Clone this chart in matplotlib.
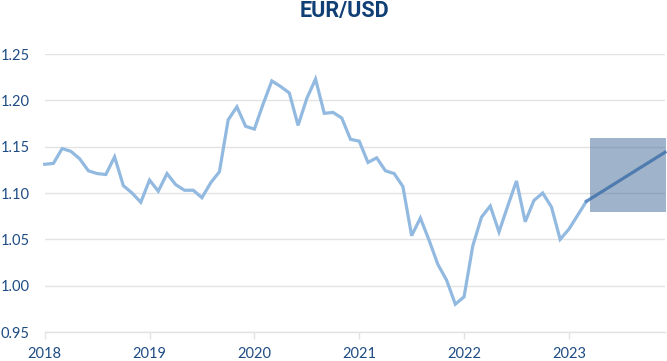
import matplotlib
matplotlib.use("Agg")
import matplotlib.pyplot as plt
from matplotlib.patches import Rectangle

start_year = 2018
eurusd = [1.131, 1.132, 1.148, 1.145, 1.137, 1.124, 1.121, 1.120, 1.139, 1.108,
          1.100, 1.090, 1.114, 1.102, 1.121, 1.109, 1.103, 1.103, 1.095, 1.111,
          1.123, 1.179, 1.193, 1.172, 1.169, 1.196, 1.221, 1.215, 1.208, 1.173,
          1.202, 1.223, 1.186, 1.187, 1.181, 1.158, 1.156, 1.133, 1.138, 1.124,
          1.121, 1.107, 1.054, 1.073, 1.049, 1.023, 1.006, 0.980, 0.988, 1.043,
          1.074, 1.086, 1.058, 1.086, 1.113, 1.069, 1.092, 1.100, 1.085, 1.050,
          1.061, 1.076, 1.091]
forecast_months = [62, 71]
forecast_vals = [1.091, 1.144]
band_months = [62.4, 71.15]
band_vals = [1.079, 1.159]
year_ticks = [2018, 2019, 2020, 2021, 2022, 2023]
y_ticks = [0.95, 1.00, 1.05, 1.10, 1.15, 1.20, 1.25]

navy = "#1d4c84"
line_c = "#92b9e0"
grid_c = "#e3e3e3"

fig = plt.figure(figsize=(6.67, 3.61), dpi=100)
ax = fig.add_axes([0.067, 0.0803, 0.930, 0.770])

x = [start_year + i / 12 for i in range(len(eurusd))]
ax.plot(x, eurusd, color=line_c, lw=2.3, solid_joinstyle="miter", zorder=3, clip_on=False)
fx = [start_year + m / 12 for m in forecast_months]
ax.plot(fx, forecast_vals, color="#5e8fc6", lw=2.3, zorder=3, clip_on=False)
bx0 = start_year + band_months[0] / 12
bx1 = start_year + band_months[1] / 12
ax.add_patch(Rectangle((bx0, band_vals[0]), bx1 - bx0, band_vals[1] - band_vals[0],
                       facecolor="#416999", alpha=0.5, edgecolor="none", zorder=4, clip_on=False))

ax.set_xlim(start_year, start_year + 71 / 12)
ax.set_ylim(0.95, 1.25)
ax.set_yticks(y_ticks)
ax.set_yticklabels([f"{v:.2f}" for v in y_ticks])
ax.set_xticks(year_ticks)
ax.set_xticklabels([str(y) for y in year_ticks])
ax.grid(axis="y", color=grid_c, lw=1)
ax.set_axisbelow(True)
for s in ["top", "right", "left"]:
    ax.spines[s].set_visible(False)
ax.spines["bottom"].set_color(grid_c)
ax.spines["bottom"].set_linewidth(1)
ax.tick_params(axis="y", length=0, pad=11, labelsize=10.5, labelcolor=navy)
ax.tick_params(axis="x", length=5, width=1, color=grid_c, pad=6, labelsize=10.5, labelcolor=navy)
for lab in ax.get_xticklabels() + ax.get_yticklabels():
    lab.set_fontfamily("Lato")

fig.text(0.516, 0.969, "EUR/USD", ha="center", va="center", fontsize=15.5,
         fontweight="bold", color="#0f3f74", family="Roboto")

fig.savefig("out.png", dpi=100)
